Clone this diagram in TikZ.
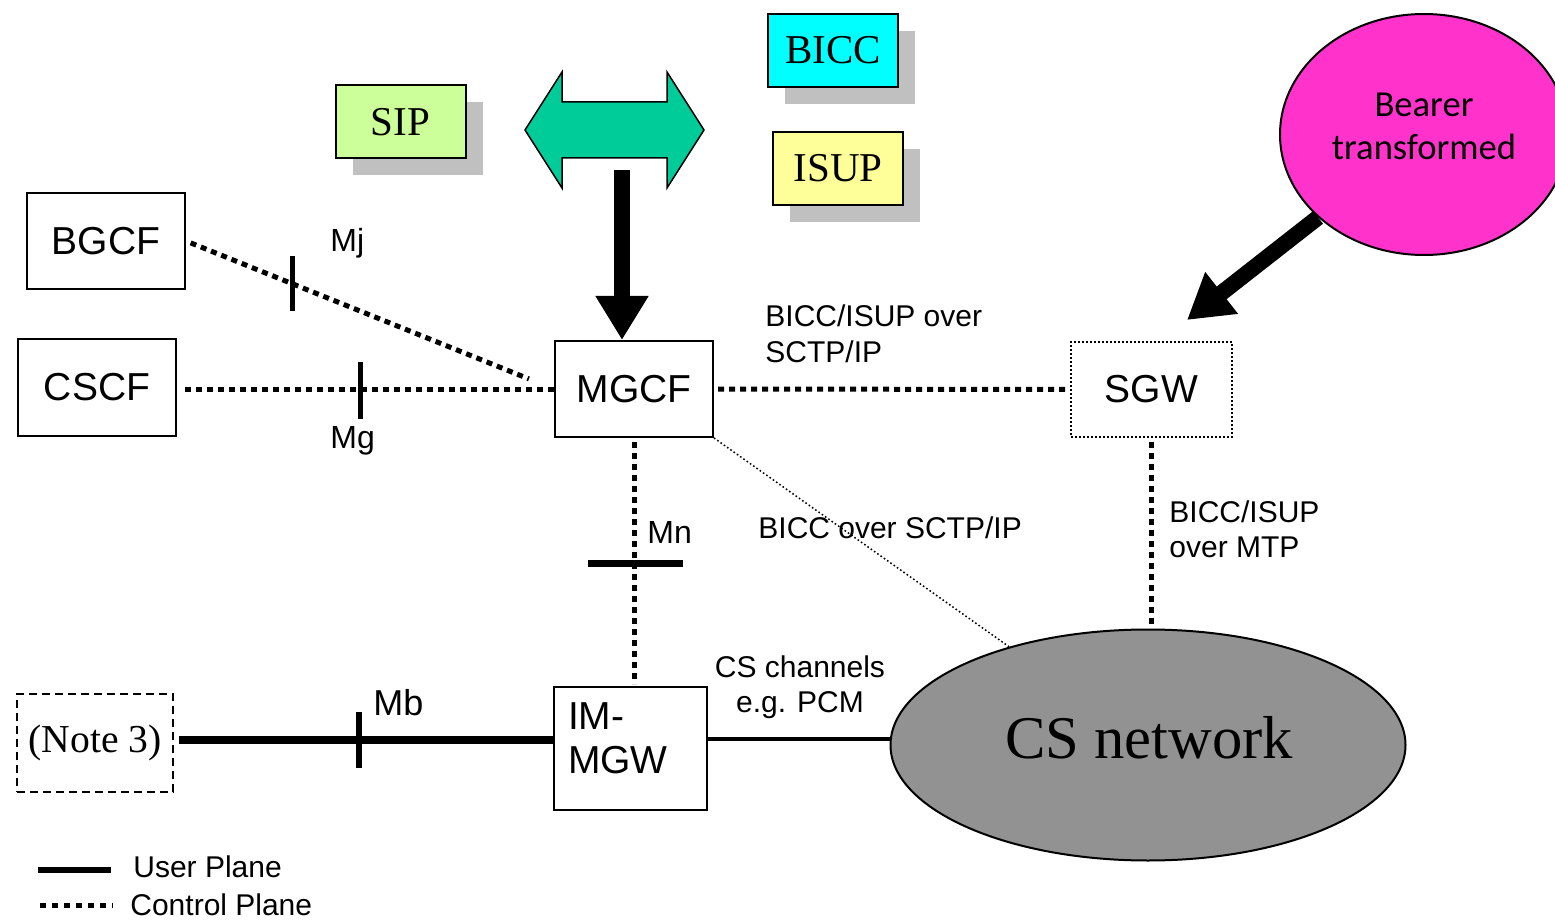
\documentclass[tikz,border=0pt]{standalone}
\usepackage{fontspec}
\setmainfont{Liberation Serif}
\newfontfamily\arialf{Liberation Sans}
\newfontfamily\calibf{Carlito}
\usetikzlibrary{shapes.geometric,arrows.meta,shadows,calc}
\definecolor{sipgreen}{HTML}{CCFF99}
\definecolor{bicccyan}{HTML}{00FFFF}
\definecolor{isupyellow}{HTML}{FFFF99}
\definecolor{arrowgreen}{HTML}{00CC99}
\definecolor{bearerpink}{HTML}{FF33CC}
\definecolor{csgray}{HTML}{929292}
\definecolor{shadowgray}{HTML}{C0C0C0}
\begin{document}
\begin{tikzpicture}[x=0.5pt,y=-0.5pt,
  box/.style={draw, line width=1pt, rectangle, inner sep=0pt,
    font=\arialf\fontsize{19.5pt}{22pt}\selectfont},
  protobox/.style={draw, line width=1pt, rectangle, inner sep=0pt,
    minimum width=65pt, minimum height=36.5pt,
    font=\fontsize{20.5pt}{24pt}\selectfont,
    drop shadow={opacity=1, fill=shadowgray, shadow xshift=8.5pt, shadow yshift=-8.5pt}},
  ctrl/.style={line width=2.5pt, dash pattern=on 3pt off 2.5pt},
  thinctrl/.style={line width=0.75pt, dash pattern=on 0.8pt off 1.2pt},
  userln/.style={line width=4pt},
  tickmark/.style={line width=2.5pt},
  lbl/.style={font=\arialf\fontsize{15pt}{17.5pt}\selectfont, inner sep=0pt},
  iface/.style={font=\arialf\fontsize{16pt}{18pt}\selectfont, inner sep=0pt},
  bigarrow/.style={line width=8pt, -{Triangle[width=25pt,length=22pt]}}
]
\clip (0,0) rectangle (1555,920);

% protocol boxes with shadows
\node[protobox, fill=sipgreen] (sip) at (400.5,122) {SIP};
\node[protobox, fill=bicccyan] (bicc) at (833,50.5) {BICC};
\node[protobox, fill=isupyellow] (isup) at (838,168.5) {ISUP};

% network elements
\node[box, minimum width=79pt, minimum height=48pt] (bgcf) at (106,241) {BGCF};
\node[box, minimum width=79pt, minimum height=48.5pt] (cscf) at (97,387.5) {CSCF};
\node[box, minimum width=79pt, minimum height=48pt] (mgcf) at (634,389) {MGCF};
\node[box, minimum width=80.5pt, minimum height=47.5pt, line width=0.75pt,
      dash pattern=on 1pt off 1pt] (sgw) at (1151.5,389.5) {SGW};
\node[box, minimum width=76.5pt, minimum height=61.5pt] (immgw) at (630.5,748.5) {};
\node[box, anchor=west, align=left, draw=none] (immgwtext) at (567,738)
      {IM-\\[0pt]MGW};
\node[box, minimum width=78pt, minimum height=49pt, line width=0.75pt,
      dash pattern=on 4pt off 2.5pt, font=\fontsize{19.8pt}{22pt}\selectfont]
      (note3) at (95,743) {(Note 3)};

% CS network and bearer ellipses
\node[ellipse, draw, line width=1pt, fill=csgray, minimum width=257.5pt,
      minimum height=115.5pt, inner sep=0pt] (csnet) at (1148,745) {};
\node[anchor=base, inner sep=0pt, font=\fontsize{30.3pt}{34pt}\selectfont]
      (csnettext) at (1149,758) {CS network};
\node[ellipse, draw, line width=1pt, fill=bearerpink, minimum width=144pt,
      minimum height=120.5pt, inner sep=0pt] (bearer) at (1424,134.5) {};
\node[align=center, inner sep=0pt, font=\calibf\fontsize{18.3pt}{21.5pt}\selectfont]
      (bearertext) at (1424,126) {Bearer\\transformed};

% double-headed green arrow
\draw[line width=0.75pt, fill=arrowgreen]
  (525,130) -- (562,72) -- (562,102) -- (667,102) -- (667,72) -- (704,130)
  -- (667,188) -- (667,158) -- (562,158) -- (562,188) -- cycle;

% heavy arrows
\coordinate (dtail) at (622,170);
\draw[bigarrow] (dtail) -- (dtail |- mgcf.north);
\coordinate (bearertip) at (1187,320);
\draw[bigarrow] (bearer) -- (bearertip);

% control plane connectors
\draw[ctrl, shorten <=2.5pt, shorten >=13.5pt] (bgcf.east) -- (mgcf.west);
\draw[ctrl, shorten <=4pt] (cscf.east |- mgcf.west) -- (mgcf.west);
\draw[ctrl, shorten <=2pt, shorten >=1.5pt] (mgcf.east) -- (sgw.west);
\draw[ctrl, shorten <=2pt, shorten >=1pt] (mgcf.south) -- (mgcf.south |- immgw.north);
\draw[ctrl, shorten <=2pt] (sgw.south) -- (sgw.south |- csnet.north);
\draw[thinctrl] (mgcf.south east) -- (csnet);

% user plane connectors
\coordinate (csline) at ([yshift=4.75pt]immgw.east);
\draw[line width=2pt] (csline) -- (csline -| csnet.west);
\coordinate (mbline) at ([xshift=2.5pt,yshift=1.5pt]note3.east);
\draw[userln] (mbline) -- (mbline -| immgw.west);

% interface reference points
\coordinate (mj) at ($(bgcf.east)!0.289!(mgcf.west)$);
\draw[tickmark] ([yshift=13.75pt]mj) -- ([yshift=-13.75pt]mj);
\coordinate (mg) at (360,390.5);
\draw[tickmark] ([yshift=14.25pt]mg) -- ([yshift=-14.25pt]mg);
\coordinate (mn) at (635.5,563);
\draw[tickmark, line width=3.5pt] ([xshift=-23.75pt]mn) -- ([xshift=23.75pt]mn);
\coordinate (mb) at (359,740);
\draw[tickmark, line width=3pt] ([yshift=14pt]mb) -- ([yshift=-14pt]mb);

\node[iface, anchor=base west] (mjlbl) at (330,252) {Mj};
\node[iface, anchor=base west] (mglbl) at (330,448) {Mg};
\node[iface, anchor=base west] (mnlbl) at (647,543) {Mn};
\node[iface, anchor=base west, font=\arialf\fontsize{18pt}{20pt}\selectfont] (mblbl) at (373,715) {Mb};

% connector labels (anchored at the baseline of the last line)
\node[lbl, anchor=base west, align=left] (sctplbl) at (765,362) {BICC/ISUP over\\SCTP/IP};
\node[lbl, anchor=base west] (bicclbl) at (758,538) {BICC over SCTP/IP};
\node[lbl, anchor=base west, align=left] (mtplbl) at (1169,557) {BICC/ISUP\\over MTP};
\node[lbl, anchor=base, align=center] (pcmlbl) at (800,712) {CS channels\\e.g. PCM};

% legend
\coordinate (ul1) at (38,870);
\coordinate (ul2) at (111,870);
\draw[line width=3pt] (ul1) -- (ul2);
\node[lbl, anchor=base west] (userlbl) at (133,877) {User Plane};
\coordinate (cl1) at (40,905);
\coordinate (cl2) at (113,905);
\draw[line width=2.5pt, dash pattern=on 3pt off 3pt] (cl1) -- (cl2);
\node[lbl, anchor=base west] (ctrllbl) at (130,915) {Control Plane};
\end{tikzpicture}
\end{document}
